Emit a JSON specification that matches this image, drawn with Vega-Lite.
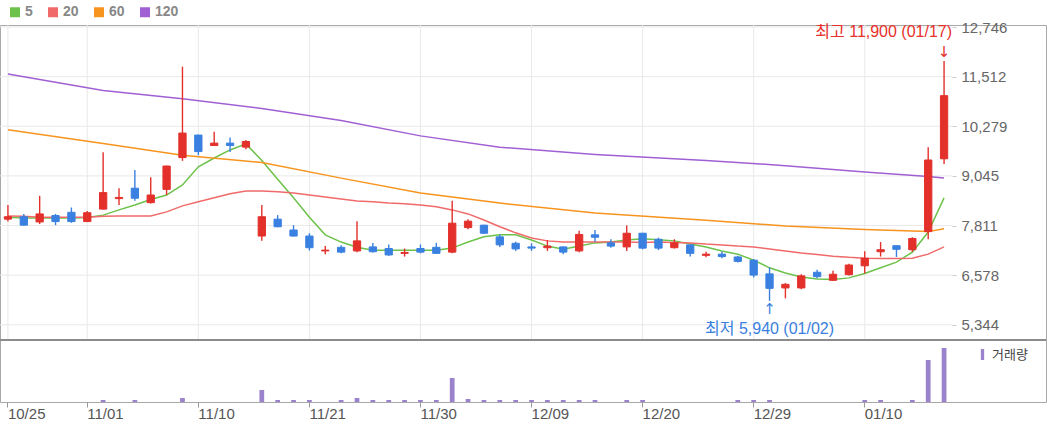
{
 "$schema": "https://vega.github.io/schema/vega-lite/v6.json",
 "width": 1046, "height": 377,
 "autosize": {"type": "none"},
 "padding": {"left": 0, "top": 25, "right": 4, "bottom": 32},
 "background": "white",
 "config": {
  "view": {"stroke": "#a8a8a8", "strokeWidth": 1},
  "font": "Liberation Sans, Noto Sans CJK KR, sans-serif",
  "axis": {"labelFont": "Liberation Sans, Noto Sans CJK KR, sans-serif"},
  "legend": {"labelFont": "Liberation Sans, Noto Sans CJK KR, sans-serif"}
 },
 "datasets": {
  "c": [
   {"d":"10/25","o":7970,"h":8320,"l":7910,"c":8030,"v":0,"m5":8020,"m20":8050,"m60":10190,"m120":11580},
   {"d":"10/26","o":8030,"h":8100,"l":7810,"c":7820,"v":0,"m5":8000,"m20":8040,"m60":null,"m120":null},
   {"d":"10/27","o":7900,"h":8550,"l":7850,"c":8100,"v":0,"m5":8000,"m20":8020,"m60":null,"m120":null},
   {"d":"10/28","o":8060,"h":8100,"l":7820,"c":7910,"v":0,"m5":8000,"m20":8020,"m60":null,"m120":null},
   {"d":"10/31","o":8140,"h":8260,"l":7880,"c":7910,"v":0,"m5":8000,"m20":8020,"m60":null,"m120":null},
   {"d":"11/01","o":7910,"h":8170,"l":7900,"c":8130,"v":0,"m5":8010,"m20":8020,"m60":null,"m120":null},
   {"d":"11/02","o":8220,"h":9630,"l":8210,"c":8630,"v":20000,"m5":8070,"m20":8040,"m60":9850,"m120":11170},
   {"d":"11/03","o":8480,"h":8740,"l":8320,"c":8510,"v":0,"m5":8200,"m20":8050,"m60":null,"m120":null},
   {"d":"11/04","o":8740,"h":9190,"l":8430,"c":8490,"v":20000,"m5":8320,"m20":8050,"m60":null,"m120":null},
   {"d":"11/07","o":8380,"h":9010,"l":8360,"c":8570,"v":0,"m5":8460,"m20":8050,"m60":null,"m120":null},
   {"d":"11/08","o":8710,"h":9300,"l":8570,"c":9290,"v":0,"m5":8570,"m20":8150,"m60":null,"m120":null},
   {"d":"11/09","o":9500,"h":11760,"l":9420,"c":10110,"v":40000,"m5":8820,"m20":8300,"m60":9560,"m120":10960},
   {"d":"11/10","o":10060,"h":10070,"l":9560,"c":9650,"v":0,"m5":9270,"m20":8400,"m60":null,"m120":null},
   {"d":"11/11","o":9800,"h":10140,"l":9790,"c":9860,"v":0,"m5":9490,"m20":8500,"m60":null,"m120":null},
   {"d":"11/14","o":9860,"h":10000,"l":9640,"c":9800,"v":0,"m5":9690,"m20":8600,"m60":null,"m120":null},
   {"d":"11/15","o":9760,"h":9940,"l":9710,"c":9900,"v":0,"m5":9840,"m20":8670,"m60":null,"m120":null},
   {"d":"11/16","o":7550,"h":8320,"l":7430,"c":8030,"v":120000,"m5":9430,"m20":8670,"m60":9380,"m120":10720},
   {"d":"11/17","o":7970,"h":8070,"l":7770,"c":7780,"v":20000,"m5":8960,"m20":8650,"m60":null,"m120":null},
   {"d":"11/18","o":7700,"h":7820,"l":7540,"c":7550,"v":20000,"m5":8500,"m20":8620,"m60":null,"m120":null},
   {"d":"11/21","o":7550,"h":7620,"l":7190,"c":7260,"v":20000,"m5":8020,"m20":8570,"m60":null,"m120":null},
   {"d":"11/22","o":7180,"h":7300,"l":7100,"c":7200,"v":0,"m5":7580,"m20":8520,"m60":null,"m120":null},
   {"d":"11/23","o":7270,"h":7320,"l":7120,"c":7150,"v":20000,"m5":7400,"m20":8470,"m60":8990,"m120":10420},
   {"d":"11/24","o":7180,"h":7920,"l":7150,"c":7430,"v":40000,"m5":7270,"m20":8420,"m60":null,"m120":null},
   {"d":"11/25","o":7280,"h":7380,"l":7140,"c":7160,"v":20000,"m5":7200,"m20":8400,"m60":null,"m120":null},
   {"d":"11/28","o":7240,"h":7340,"l":7060,"c":7080,"v":20000,"m5":7200,"m20":8370,"m60":null,"m120":null},
   {"d":"11/29","o":7120,"h":7240,"l":7040,"c":7140,"v":20000,"m5":7200,"m20":8350,"m60":null,"m120":null},
   {"d":"11/30","o":7240,"h":7340,"l":7120,"c":7150,"v":20000,"m5":7200,"m20":8320,"m60":8620,"m120":10040},
   {"d":"12/01","o":7270,"h":7380,"l":7110,"c":7120,"v":20000,"m5":7200,"m20":8280,"m60":null,"m120":null},
   {"d":"12/02","o":7150,"h":8430,"l":7120,"c":7870,"v":240000,"m5":7250,"m20":8200,"m60":null,"m120":null},
   {"d":"12/05","o":7760,"h":7970,"l":7720,"c":7920,"v":30000,"m5":7400,"m20":8100,"m60":null,"m120":null},
   {"d":"12/06","o":7820,"h":7830,"l":7610,"c":7620,"v":20000,"m5":7530,"m20":7950,"m60":null,"m120":null},
   {"d":"12/07","o":7530,"h":7590,"l":7280,"c":7330,"v":20000,"m5":7580,"m20":7780,"m60":8370,"m120":9760},
   {"d":"12/08","o":7370,"h":7410,"l":7180,"c":7230,"v":20000,"m5":7580,"m20":7630,"m60":null,"m120":null},
   {"d":"12/09","o":7280,"h":7370,"l":7180,"c":7250,"v":20000,"m5":7450,"m20":7500,"m60":null,"m120":null},
   {"d":"12/12","o":7260,"h":7450,"l":7180,"c":7300,"v":20000,"m5":7300,"m20":7430,"m60":null,"m120":null},
   {"d":"12/13","o":7280,"h":7290,"l":7100,"c":7150,"v":20000,"m5":7220,"m20":7400,"m60":null,"m120":null},
   {"d":"12/14","o":7180,"h":7680,"l":7150,"c":7590,"v":20000,"m5":7300,"m20":7400,"m60":null,"m120":null},
   {"d":"12/15","o":7580,"h":7700,"l":7410,"c":7520,"v":20000,"m5":7380,"m20":7400,"m60":8120,"m120":9580},
   {"d":"12/16","o":7380,"h":7470,"l":7260,"c":7300,"v":0,"m5":7400,"m20":7400,"m60":null,"m120":null},
   {"d":"12/19","o":7280,"h":7810,"l":7180,"c":7620,"v":20000,"m5":7450,"m20":7400,"m60":null,"m120":null},
   {"d":"12/20","o":7620,"h":7630,"l":7220,"c":7250,"v":20000,"m5":7480,"m20":7390,"m60":null,"m120":null},
   {"d":"12/21","o":7470,"h":7510,"l":7200,"c":7250,"v":0,"m5":7460,"m20":7400,"m60":null,"m120":null},
   {"d":"12/22","o":7260,"h":7470,"l":7240,"c":7380,"v":0,"m5":7430,"m20":7390,"m60":null,"m120":null},
   {"d":"12/23","o":7330,"h":7340,"l":7040,"c":7120,"v":0,"m5":7350,"m20":7380,"m60":null,"m120":null},
   {"d":"12/26","o":7070,"h":7160,"l":7020,"c":7100,"v":0,"m5":7280,"m20":7350,"m60":7940,"m120":9430},
   {"d":"12/27","o":7100,"h":7160,"l":7000,"c":7040,"v":0,"m5":7180,"m20":7330,"m60":null,"m120":null},
   {"d":"12/28","o":7030,"h":7060,"l":6890,"c":6920,"v":20000,"m5":7100,"m20":7300,"m60":null,"m120":null},
   {"d":"12/29","o":6950,"h":6980,"l":6520,"c":6580,"v":20000,"m5":6950,"m20":7280,"m60":null,"m120":null},
   {"d":"01/02","o":6610,"h":6770,"l":5940,"c":6250,"v":20000,"m5":6760,"m20":7230,"m60":null,"m120":null},
   {"d":"01/03","o":6260,"h":6380,"l":6000,"c":6350,"v":0,"m5":6630,"m20":7180,"m60":7800,"m120":9300},
   {"d":"01/04","o":6260,"h":6600,"l":6230,"c":6560,"v":0,"m5":6530,"m20":7130,"m60":null,"m120":null},
   {"d":"01/05","o":6650,"h":6710,"l":6500,"c":6540,"v":0,"m5":6480,"m20":7090,"m60":null,"m120":null},
   {"d":"01/06","o":6450,"h":6690,"l":6440,"c":6600,"v":0,"m5":6470,"m20":7050,"m60":null,"m120":null},
   {"d":"01/09","o":6590,"h":6860,"l":6570,"c":6830,"v":0,"m5":6510,"m20":7020,"m60":null,"m120":null},
   {"d":"01/10","o":6810,"h":7170,"l":6620,"c":7000,"v":20000,"m5":6620,"m20":7000,"m60":7710,"m120":9140},
   {"d":"01/11","o":7160,"h":7400,"l":7040,"c":7210,"v":20000,"m5":6760,"m20":6990,"m60":null,"m120":null},
   {"d":"01/12","o":7310,"h":7320,"l":7030,"c":7220,"v":0,"m5":6900,"m20":6990,"m60":null,"m120":null},
   {"d":"01/13","o":7210,"h":7520,"l":7160,"c":7490,"v":20000,"m5":7150,"m20":7000,"m60":null,"m120":null},
   {"d":"01/16","o":7660,"h":9760,"l":7470,"c":9440,"v":420000,"m5":7650,"m20":7100,"m60":7660,"m120":9030},
   {"d":"01/17","o":9470,"h":11900,"l":9340,"c":11040,"v":540000,"m5":8500,"m20":7280,"m60":7730,"m120":8990}
  ],
  "yticks": [{"t":5344},{"t":6577.67},{"t":7811.33},{"t":9045},{"t":10278.67},{"t":11512.33},{"t":12746}],
  "xticks": [{"d":"10/25"},{"d":"11/01"},{"d":"11/10"},{"d":"11/21"},{"d":"11/30"},{"d":"12/09"},{"d":"12/20"},{"d":"12/29"},{"d":"01/10"}],
  "sep": [{"p":4966}],
  "notes": [{"d":"01/17","p":11900,"t":"최고 11,900 (01/17)","a":"↓","k":"hi"},{"d":"01/02","p":5940,"t":"최저 5,940 (01/02)","a":"↑","k":"lo"}]
 },
 "layer": [
  {
   "data": {"name": "yticks"},
   "mark": {"type": "rule", "color": "#e9e9e9", "strokeWidth": 1},
   "encoding": {
    "x": {"datum": "10/25", "type": "nominal", "bandPosition": 0, "title": null},
    "x2": {"datum": "01/17", "bandPosition": 1},
    "y": {"field": "t", "type": "quantitative", "axis": null,
          "scale": {"domain": [4966, 12796], "range": [315, 0], "nice": false, "zero": false}}
   }
  },
  {
   "data": {"name": "xticks"},
   "mark": {"type": "rule", "color": "#e9e9e9", "strokeWidth": 1},
   "encoding": {
    "x": {"field": "d", "type": "nominal", "title": null},
    "y": {"datum": 4966, "type": "quantitative", "axis": null,
          "scale": {"domain": [4966, 12796], "range": [315, 0], "nice": false, "zero": false}},
    "y2": {"datum": 12796}
   }
  },
  {
   "data": {"name": "c"},
   "transform": [
    {"fold": ["m5", "m20", "m60", "m120"], "as": ["k", "mv"]},
    {"filter": "datum.mv != null"}
   ],
   "mark": {"type": "line", "strokeWidth": 1.5, "interpolate": "linear"},
   "encoding": {
    "x": {"field": "d", "type": "nominal", "title": null},
    "y": {"field": "mv", "type": "quantitative", "axis": null,
          "scale": {"domain": [4966, 12796], "range": [315, 0], "nice": false, "zero": false}},
    "color": {"field": "k", "type": "nominal",
              "scale": {"domain": ["m5", "m20", "m60", "m120"], "range": ["#6cc24a", "#f06a6a", "#f7941e", "#a05fd3"]},
              "legend": {"orient": "none", "legendX": 8, "legendY": -20, "direction": "horizontal", "title": null, "symbolType": "square", "symbolSize": 25, "symbolStrokeWidth": 5, "labelFontSize": 14, "labelFontWeight": "bold", "labelColor": "#888888", "labelOffset": 3, "columnPadding": 7, "labelExpr": "replace(datum.label, 'm', '')"}}
   }
  },
  {
   "data": {"name": "c"},
   "mark": {"type": "rule", "strokeWidth": 1.4},
   "encoding": {
    "x": {"field": "d", "type": "nominal", "title": null,
          "scale": {"type": "band", "domain": ["10/25","10/26","10/27","10/28","10/31","11/01","11/02","11/03","11/04","11/07","11/08","11/09","11/10","11/11","11/14","11/15","11/16","11/17","11/18","11/21","11/22","11/23","11/24","11/25","11/28","11/29","11/30","12/01","12/02","12/05","12/06","12/07","12/08","12/09","12/12","12/13","12/14","12/15","12/16","12/19","12/20","12/21","12/22","12/23","12/26","12/27","12/28","12/29","01/02","01/03","01/04","01/05","01/06","01/09","01/10","01/11","01/12","01/13","01/16","01/17"], "range": [0, 952], "paddingInner": 0, "paddingOuter": 0},
          "axis": {"title": null, "values": ["10/25","11/01","11/10","11/21","11/30","12/09","12/20","12/29","01/10"], "labelAlign": "left", "labelAngle": 0, "labelFontSize": 15, "labelColor": "#555555", "tickSize": 5, "tickColor": "#999999", "domain": false, "grid": false, "labelPadding": 6}},
    "y": {"field": "l", "type": "quantitative",
          "scale": {"domain": [4966, 12796], "range": [315, 0], "nice": false, "zero": false},
          "axis": {"orient": "right", "offset": -94, "values": [5344, 6577.67, 7811.33, 9045, 10278.67, 11512.33, 12746], "format": ",.0f", "title": null, "grid": false, "domain": false, "ticks": true, "tickSize": 4, "tickColor": "#cccccc", "labelPadding": 5, "labelFontSize": 15, "labelColor": "#666666", "labelBaseline": "middle"}},
    "y2": {"field": "h"},
    "color": {"condition": {"test": "datum.c >= datum.o", "value": "#e3302b"}, "value": "#3a80e0"}
   }
  },
  {
   "data": {"name": "c"},
   "mark": {"type": "bar", "width": {"band": 0.46}, "strokeWidth": 1},
   "encoding": {
    "x": {"field": "d", "type": "nominal", "title": null},
    "y": {"field": "o", "type": "quantitative", "axis": null,
          "scale": {"domain": [4966, 12796], "range": [315, 0], "nice": false, "zero": false}},
    "y2": {"field": "c"},
    "color": {"condition": {"test": "datum.c >= datum.o", "value": "#e3302b"}, "value": "#3a80e0"},
    "stroke": {"condition": {"test": "datum.c >= datum.o", "value": "#e3302b"}, "value": "#3a80e0"}
   }
  },
  {
   "data": {"name": "notes"},
   "transform": [{"filter": "datum.k == 'hi'"}],
   "mark": {"type": "text", "align": "right", "baseline": "middle", "dx": 8, "dy": -29, "fontSize": 16, "color": "#e8302b"},
   "encoding": {
    "x": {"field": "d", "type": "nominal", "title": null},
    "y": {"field": "p", "type": "quantitative", "axis": null,
          "scale": {"domain": [4966, 12796], "range": [315, 0], "nice": false, "zero": false}},
    "text": {"field": "t"}
   }
  },
  {
   "data": {"name": "notes"},
   "transform": [{"filter": "datum.k == 'hi'"}],
   "mark": {"type": "text", "align": "center", "baseline": "middle", "dy": -9, "fontSize": 15, "font": "DejaVu Sans", "color": "#e8302b"},
   "encoding": {
    "x": {"field": "d", "type": "nominal", "title": null},
    "y": {"field": "p", "type": "quantitative", "axis": null,
          "scale": {"domain": [4966, 12796], "range": [315, 0], "nice": false, "zero": false}},
    "text": {"field": "a"}
   }
  },
  {
   "data": {"name": "notes"},
   "transform": [{"filter": "datum.k == 'lo'"}],
   "mark": {"type": "text", "align": "center", "baseline": "middle", "dy": 28, "fontSize": 16, "color": "#3a80e0"},
   "encoding": {
    "x": {"field": "d", "type": "nominal", "title": null},
    "y": {"field": "p", "type": "quantitative", "axis": null,
          "scale": {"domain": [4966, 12796], "range": [315, 0], "nice": false, "zero": false}},
    "text": {"field": "t"}
   }
  },
  {
   "data": {"name": "notes"},
   "transform": [{"filter": "datum.k == 'lo'"}],
   "mark": {"type": "text", "align": "center", "baseline": "middle", "dy": 8, "fontSize": 15, "font": "DejaVu Sans", "color": "#3a80e0"},
   "encoding": {
    "x": {"field": "d", "type": "nominal", "title": null},
    "y": {"field": "p", "type": "quantitative", "axis": null,
          "scale": {"domain": [4966, 12796], "range": [315, 0], "nice": false, "zero": false}},
    "text": {"field": "a"}
   }
  },
  {
   "data": {"name": "sep"},
   "mark": {"type": "rule", "color": "#8c8c8c", "strokeWidth": 2},
   "encoding": {
    "y": {"field": "p", "type": "quantitative", "axis": null,
          "scale": {"domain": [4966, 12796], "range": [315, 0], "nice": false, "zero": false}}
   }
  },
  {
   "data": {"name": "c"},
   "transform": [{"filter": "datum.v > 0"}],
   "mark": {"type": "bar", "width": {"band": 0.3}},
   "encoding": {
    "x": {"field": "d", "type": "nominal", "title": null},
    "y": {"field": "v", "type": "quantitative", "axis": null,
          "scale": {"domain": [0, 600000], "range": [377, 317], "nice": false, "zero": true}},
    "color": {"datum": "거래량", "type": "nominal",
              "scale": {"range": ["#9b82cc"]},
              "legend": {"orient": "none", "legendX": 976, "legendY": 323, "title": null, "symbolType": "M-0.3,-1H0.3V1H-0.3Z", "symbolSize": 121, "symbolStrokeWidth": 0, "labelFontSize": 13, "labelColor": "#444444", "labelOffset": 3}}
   }
  }
 ],
 "resolve": {"scale": {"y": "independent", "color": "independent"}}
}
